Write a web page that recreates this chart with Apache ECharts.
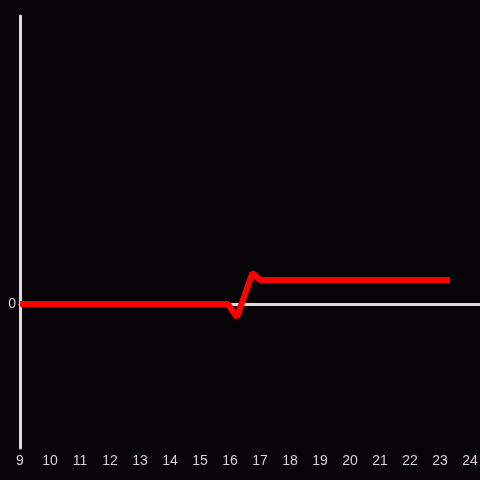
<!DOCTYPE html>
<html>
<head>
<meta charset="utf-8">
<script src="https://cdn.jsdelivr.net/npm/echarts@6/dist/echarts.min.js"></script>
<style>
  html, body { margin: 0; padding: 0; background: #060407; }
  #chart { width: 480px; height: 480px; }
</style>
</head>
<body>
<div id="chart"></div>
<script>
// series values
const xValues = [9, 15.93, 16.23, 16.75, 17, 23.33];
const yValues = [0, 0, -0.55, 1.3, 1.0, 1.0];
const xMin = 9;
const xMax = 24.333;
const yMin = -6;
const yMax = 12;

const chart = echarts.init(document.getElementById("chart"));

const option = {
    backgroundColor: "#060407",
    animation: false,
    grid: { left: 20, right: 0, top: 16, bottom: 32, outerBoundsMode: "none", containLabel: false },
    xAxis: {
        type: "value",
        min: xMin,
        max: xMax,
        interval: 1,
        axisLine: { show: true, onZero: true, lineStyle: { color: "#dcdcdc", width: 3 } },
        axisTick: { show: false },
        splitLine: { show: false },
        axisLabel: {
            color: "#d4d4d4",
            fontSize: 14,
            fontFamily: "Liberation Sans, Arial, sans-serif",
            margin: 6,
            showMaxLabel: false,
            formatter: (v) => (Number.isInteger(v) ? String(v) : ""),
        },
        position: "bottom",
    },
    yAxis: {
        type: "value",
        min: yMin,
        max: yMax,
        interval: 6,
        axisLine: { show: true, lineStyle: { color: "#dcdcdc", width: 3 } },
        axisTick: { show: false },
        splitLine: { show: false },
        axisLabel: {
            color: "#d4d4d4",
            fontSize: 14,
            fontFamily: "Liberation Sans, Arial, sans-serif",
            margin: 4,
            formatter: (v) => (v === 0 ? "0" : ""),
        },
    },
    series: [
        {
            type: "line",
            data: xValues.map((x, i) => [x, yValues[i]]),
            showSymbol: false,
            lineStyle: { color: "#ff0000", width: 6 },
        },
    ],
};

chart.setOption(option);
</script>
</body>
</html>
